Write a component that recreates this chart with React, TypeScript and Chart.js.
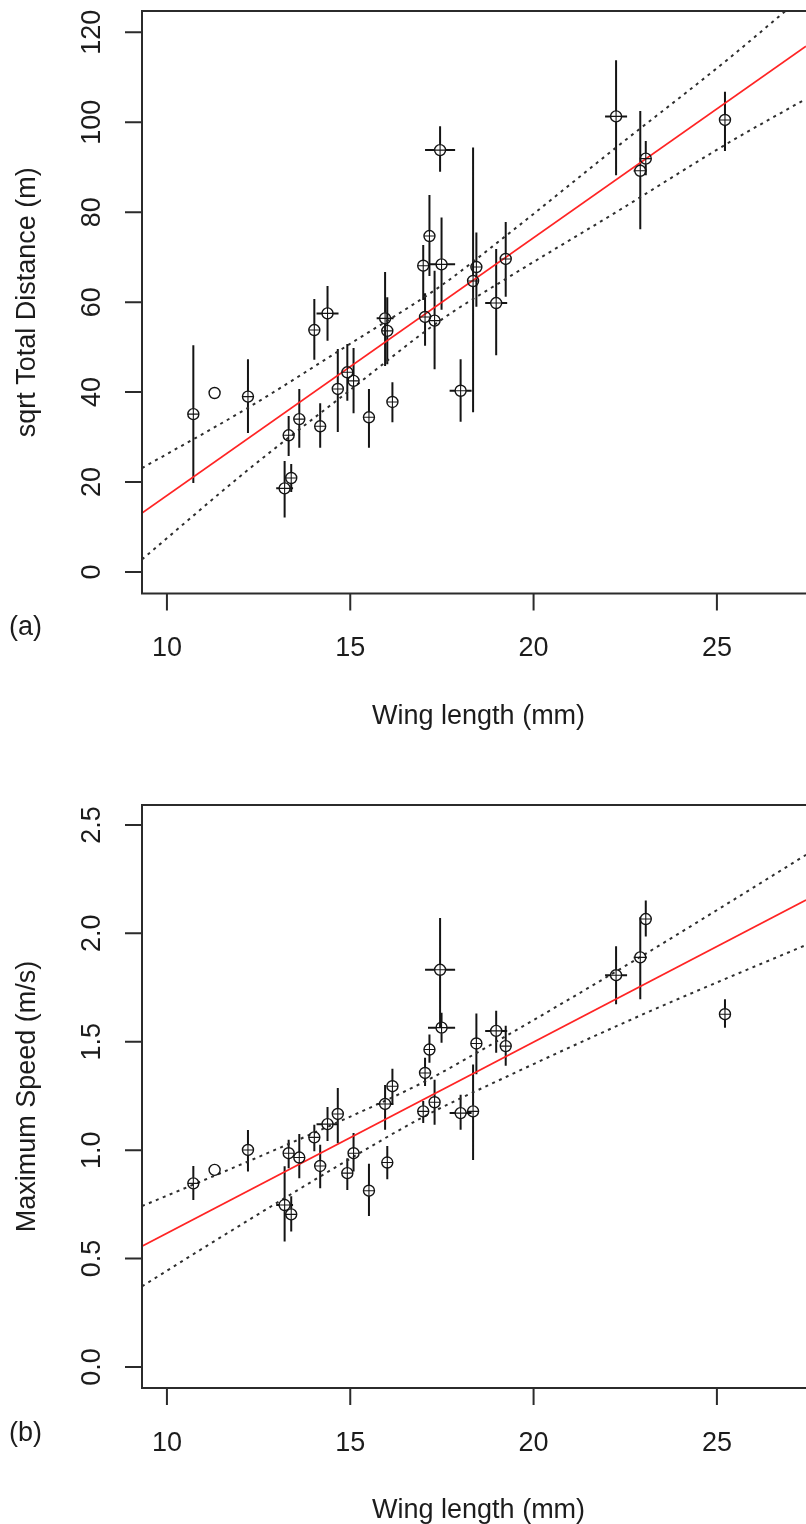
import React, { useEffect, useRef } from "react";
import { Chart, registerables } from "chart.js";
Chart.register(...registerables);

// ---------- data ----------
const wingLength = [10.72, 12.21, 13.21, 13.32, 13.39, 13.61, 14.02, 14.18, 14.38, 14.66, 14.92, 15.09, 15.51, 15.95, 16.01, 16.15, 16.99, 17.04, 17.16, 17.3, 17.45, 17.49, 18.01, 18.35, 18.44, 18.98, 19.24, 22.25, 22.91, 23.06, 25.22];
const wingErr = [0.12, 0.12, 0.23, 0.12, 0.12, 0.12, 0.12, 0.12, 0.3, 0.12, 0.12, 0.12, 0.12, 0.23, 0.12, 0.12, 0.12, 0.12, 0.12, 0.12, 0.41, 0.37, 0.3, 0.12, 0.12, 0.3, 0.12, 0.3, 0.18, 0.12, 0.12];

const distance = [35.1, 39.0, 18.6, 30.4, 20.9, 34.0, 53.8, 32.4, 57.5, 40.7, 44.4, 42.5, 34.4, 56.4, 53.6, 37.8, 68.1, 56.7, 74.7, 55.9, 93.8, 68.4, 40.3, 64.7, 67.8, 59.8, 69.6, 101.3, 89.2, 91.9, 100.5];
const distLo = [19.8, 30.9, 12.1, 25.8, 17.8, 27.6, 47.2, 27.6, 51.4, 31.1, 38.1, 35.3, 27.6, 45.8, 46.2, 33.3, 60.5, 50.3, 65.8, 45.1, 89.0, 58.3, 33.4, 35.5, 59.0, 48.2, 61.2, 88.2, 76.2, 88.2, 93.6];
const distHi = [50.4, 47.3, 24.7, 34.7, 24.0, 40.7, 60.7, 37.5, 63.6, 49.6, 50.7, 49.8, 40.7, 66.7, 61.1, 42.2, 72.7, 62.0, 83.8, 67.0, 99.1, 78.8, 47.3, 94.4, 75.5, 71.8, 77.8, 113.8, 102.5, 95.8, 106.8];

const speed = [0.847, 1.001, 0.747, 0.986, 0.704, 0.966, 1.059, 0.927, 1.12, 1.167, 0.894, 0.986, 0.813, 1.213, 0.943, 1.295, 1.179, 1.356, 1.464, 1.221, 1.832, 1.565, 1.171, 1.179, 1.492, 1.55, 1.48, 1.807, 1.889, 2.066, 1.627];
const speedLo = [0.77, 0.902, 0.579, 0.917, 0.625, 0.87, 0.995, 0.824, 1.042, 1.032, 0.816, 0.902, 0.696, 1.094, 0.866, 1.218, 1.125, 1.296, 1.403, 1.117, 1.565, 1.495, 1.094, 0.955, 1.35, 1.449, 1.389, 1.673, 1.696, 1.985, 1.565];
const speedHi = [0.927, 1.093, 0.926, 1.048, 0.787, 1.074, 1.117, 1.025, 1.199, 1.287, 0.963, 1.079, 0.937, 1.3, 1.019, 1.376, 1.227, 1.426, 1.534, 1.325, 2.071, 1.634, 1.256, 1.395, 1.63, 1.643, 1.574, 1.94, 2.074, 2.151, 1.696];

const openWing = [11.3];
const openDist = [39.8];
const openSpeed = [0.909];

const fitWing = [9.32, 27.43];
const fitDist = [13.1, 116.9];
const fitSpeed = [0.557, 2.154];

const bandWingA = [9.32, 12.21, 14.91, 17.45, 19.27, 22.27, 25.27, 27.43];
const distUpper = [23.1, 36.5, 50.3, 63.5, 74.9, 94.5, 113.8, 128.6];
const distLower = [2.8, 22.7, 39.9, 55.9, 65.3, 80.1, 95.2, 105.2];

const bandWingB = [9.32, 11.1, 12.93, 14.73, 17.0, 19.29, 22.91, 25.2, 27.43];
const speedUpper = [0.742, 0.868, 1.0, 1.134, 1.314, 1.531, 1.891, 2.128, 2.362];
const speedLower = [0.372, 0.56, 0.75, 0.934, 1.154, 1.341, 1.621, 1.788, 1.946];

const xTicks = [10, 15, 20, 25];
const distTicks = [0, 20, 40, 60, 80, 100, 120];
const distTickLabels = ["0", "20", "40", "60", "80", "100", "120"];
const speedTicks = [0, 0.5, 1, 1.5, 2, 2.5];
const speedTickLabels = ["0.0", "0.5", "1.0", "1.5", "2.0", "2.5"];

// ---------- styles ----------
const FONT = '27px "Liberation Sans", Arial, sans-serif';
const AXIS = "#2b2b2b";
const TEXT = "#1c1c1c";
const BAR = "#141414";
const R = 5.5;
const W = 806;
const H = 762;

const zip = (xs: number[], ys: number[]) => xs.map((x, i) => ({ x, y: ys[i] }));

type PanelCfg = {
  y: number[];
  lo: number[];
  hi: number[];
  openY: number[];
  fit: number[];
  bandX: number[];
  upper: number[];
  lower: number[];
  yMin: number;
  yMax: number;
  yTicks: number[];
  yTickLabels: string[];
  yTitle: string;
  panelLabel: string;
  labelOffset: number;
  padTop: number;
  padBottom: number;
};

function makeChart(canvas: HTMLCanvasElement, p: PanelCfg) {
  const deco = {
    id: "deco",
    beforeDatasetsDraw(chart: any) {
      const { ctx, scales } = chart;
      const xs = scales.x;
      const ys = scales.y;
      ctx.save();
      ctx.strokeStyle = BAR;
      ctx.lineWidth = 2;
      ctx.beginPath();
      wingLength.forEach((xv, i) => {
        const px = xs.getPixelForValue(xv);
        const py = ys.getPixelForValue(p.y[i]);
        const top = ys.getPixelForValue(p.hi[i]);
        const bot = ys.getPixelForValue(p.lo[i]);
        if (py - R > top) {
          ctx.moveTo(px, top);
          ctx.lineTo(px, py - R);
        }
        if (bot > py + R) {
          ctx.moveTo(px, py + R);
          ctx.lineTo(px, bot);
        }
        const l = xs.getPixelForValue(xv - wingErr[i]);
        const r = xs.getPixelForValue(xv + wingErr[i]);
        if (px - R > l) {
          ctx.moveTo(l, py);
          ctx.lineTo(px - R, py);
        }
        if (r > px + R) {
          ctx.moveTo(px + R, py);
          ctx.lineTo(r, py);
        }
      });
      ctx.stroke();
      ctx.restore();
    },
    afterDraw(chart: any) {
      const { ctx, chartArea: a, scales } = chart;
      const xs = scales.x;
      const ys = scales.y;
      ctx.save();
      ctx.strokeStyle = AXIS;
      ctx.lineWidth = 2;
      ctx.beginPath();
      ctx.moveTo(a.right + 2, a.top);
      ctx.lineTo(a.left, a.top);
      ctx.lineTo(a.left, a.bottom);
      ctx.lineTo(a.right + 2, a.bottom);
      p.yTicks.forEach((v) => {
        const py = ys.getPixelForValue(v);
        ctx.moveTo(a.left - 17, py);
        ctx.lineTo(a.left, py);
      });
      xTicks.forEach((v) => {
        const px = xs.getPixelForValue(v);
        ctx.moveTo(px, a.bottom);
        ctx.lineTo(px, a.bottom + 17);
      });
      ctx.stroke();

      ctx.fillStyle = TEXT;
      ctx.font = FONT;
      ctx.textBaseline = "alphabetic";
      ctx.textAlign = "center";
      xTicks.forEach((v) => {
        ctx.fillText(String(v), xs.getPixelForValue(v), a.bottom + 62.5);
      });
      p.yTicks.forEach((v, i) => {
        ctx.save();
        ctx.translate(100, ys.getPixelForValue(v));
        ctx.rotate(-Math.PI / 2);
        ctx.fillText(p.yTickLabels[i], 0, 0);
        ctx.restore();
      });
      ctx.save();
      ctx.translate(34.5, (a.top + a.bottom) / 2);
      ctx.rotate(-Math.PI / 2);
      ctx.fillText(p.yTitle, 0, 0);
      ctx.restore();
      ctx.fillText("Wing length (mm)", xs.getPixelForValue(18.5), a.bottom + 130);
      ctx.textAlign = "left";
      ctx.fillText(p.panelLabel, 9, a.bottom + p.labelOffset);
      ctx.restore();
    },
  };

  const lineBase = {
    type: "line" as const,
    showLine: true,
    pointRadius: 0,
    fill: false,
    clip: 0,
  };

  return new Chart(canvas, {
    type: "scatter",
    data: {
      datasets: [
        {
          data: zip(wingLength, p.y),
          pointStyle: "circle",
          pointRadius: R,
          borderColor: BAR,
          backgroundColor: "rgba(0,0,0,0)",
          borderWidth: 1.4,
        },
        {
          data: zip(wingLength, p.y),
          pointStyle: "cross",
          pointRadius: R,
          borderColor: BAR,
          borderWidth: 1.1,
        },
        {
          data: zip(openWing, p.openY),
          pointStyle: "circle",
          pointRadius: R,
          borderColor: BAR,
          backgroundColor: "rgba(0,0,0,0)",
          borderWidth: 1.4,
        },
        {
          ...lineBase,
          data: zip(fitWing, p.fit),
          borderColor: "#ff2424",
          borderWidth: 1.7,
        },
        {
          ...lineBase,
          data: zip(p.bandX, p.upper),
          borderColor: "#2e2e2e",
          borderWidth: 2,
          borderDash: [3, 4.5],
          cubicInterpolationMode: "monotone",
        },
        {
          ...lineBase,
          data: zip(p.bandX, p.lower),
          borderColor: "#2e2e2e",
          borderWidth: 2,
          borderDash: [3, 4.5],
          cubicInterpolationMode: "monotone",
        },
      ] as any,
    },
    options: {
      responsive: false,
      animation: false,
      events: [],
      layout: { autoPadding: false, padding: { left: 142, right: 0, top: p.padTop, bottom: p.padBottom } },
      plugins: { legend: { display: false }, tooltip: { enabled: false } },
      scales: {
        x: { type: "linear", display: false, min: 9.32, max: 27.43 },
        y: { type: "linear", display: false, min: p.yMin, max: p.yMax },
      },
    } as any,
    plugins: [deco],
  });
}

const panelA: PanelCfg = {
  y: distance,
  lo: distLo,
  hi: distHi,
  openY: openDist,
  fit: fitDist,
  bandX: bandWingA,
  upper: distUpper,
  lower: distLower,
  yMin: -4.78,
  yMax: 124.73,
  yTicks: distTicks,
  yTickLabels: distTickLabels,
  yTitle: "sqrt Total Distance (m)",
  panelLabel: "(a)",
  labelOffset: 41,
  padTop: 11,
  padBottom: H - 593.5,
};

const panelB: PanelCfg = {
  y: speed,
  lo: speedLo,
  hi: speedHi,
  openY: openSpeed,
  fit: fitSpeed,
  bandX: bandWingB,
  upper: speedUpper,
  lower: speedLower,
  yMin: -0.097,
  yMax: 2.592,
  yTicks: speedTicks,
  yTickLabels: speedTickLabels,
  yTitle: "Maximum Speed (m/s)",
  panelLabel: "(b)",
  labelOffset: 52.5,
  padTop: 43,
  padBottom: H - 626,
};

function Panel({ cfg, top }: { cfg: PanelCfg; top: number }) {
  const ref = useRef<HTMLCanvasElement | null>(null);
  useEffect(() => {
    if (!ref.current) return;
    const chart = makeChart(ref.current, cfg);
    return () => chart.destroy();
  }, [cfg]);
  return (
    <canvas
      ref={ref}
      width={W}
      height={H}
      style={{ position: "absolute", left: 0, top, width: W, height: H, display: "block" }}
    />
  );
}

export default function App() {
  return (
    <div style={{ position: "absolute", left: 0, top: 0, width: W, height: 1524, background: "#ffffff", overflow: "hidden" }}>
      <Panel cfg={panelA} top={0} />
      <Panel cfg={panelB} top={H} />
    </div>
  );
}
